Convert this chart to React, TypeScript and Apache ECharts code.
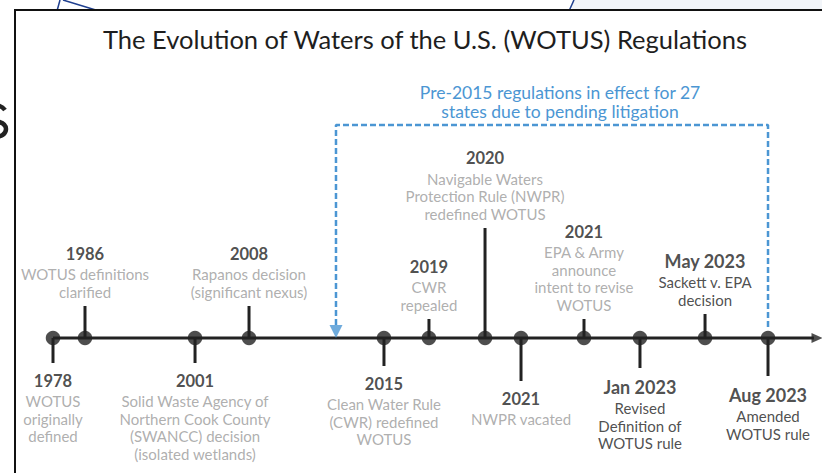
import React, { useEffect, useRef } from "react";
import * as echarts from "echarts";

// ---- data ----
const years = ["1978", "1986", "2001", "2008", "2015", "2019", "2020", "2021", "2021", "Jan 2023", "May 2023", "Aug 2023"];
// position along the schematic timeline (0 = start, 100 = arrow end)
const positions = [0, 4.16, 18.47, 25.49, 43.04, 48.89, 56.18, 60.86, 69.05, 76.33, 84.79, 92.98];
// stem length: positive = label above line, negative = below
const stems = [-25, 32, -25, 32, -28, 19, 110, -43, 19, -30, 24, -38];
const recent = [false, false, false, false, false, false, false, false, false, true, true, true];
const descriptions = [
  ["WOTUS", "originally", "defined"],
  ["WOTUS definitions", "clarified"],
  ["Solid Waste Agency of", "Northern Cook County", "(SWANCC) decision", "(isolated wetlands)"],
  ["Rapanos decision", "(significant nexus)"],
  ["Clean Water Rule", "(CWR) redefined", "WOTUS"],
  ["CWR", "repealed"],
  ["Navigable Waters", "Protection Rule (NWPR)", "redefined WOTUS"],
  ["NWPR vacated"],
  ["EPA & Army", "announce", "intent to revise", "WOTUS"],
  ["Revised", "Definition of", "WOTUS rule"],
  ["Sackett v. EPA", "decision"],
  ["Amended", "WOTUS rule"],
];
const bracketStart = 36.8;
const bracketEnd = 92.98;
const bracketHeight = 213;
const bracketLeftBottom = 13;
const bracketRightBottom = 8;
const timelineStart = 0;
const timelineEnd = 99.35;
const titleText = "The Evolution of Waters of the U.S. (WOTUS) Regulations";
const noteText = "Pre-2015 regulations in effect for 27\nstates due to pending litigation";

const FONT = "Lato, 'Open Sans', sans-serif";
const DARK = "#222222";
const GRAY = "#9a9a9a";
const BLUE = "#4b96d3";

// background letter fragment (drawn as a shape, partially outside the page)
const S_PATH =
  "M 23 5 C 20 1 15 0 12 0 C 5 0 2 4 2 8 C 2 14 8 15 13 16 C 19 17 24 19 24 24 C 24 29 19 32 13 32 C 8 32 3 30 1 27";
echarts.graphic.registerShape("bgLetter", echarts.graphic.extendPath(S_PATH, {}) as any);

export default function App() {
  const ref = useRef<HTMLDivElement>(null);
  useEffect(() => {
    if (!ref.current) return;
    const chart = echarts.init(ref.current, null, { renderer: "svg" });
    const labelData = years.map((y, i) => {
      const yk = recent[i] ? "Y" : "y";
      const dk = recent[i] ? "D" : "d";
      const text = [`{${yk}|${y}}`, ...descriptions[i].map((d) => `{${dk}|${d}}`)].join("\n");
      return {
        value: [positions[i], stems[i]],
        label: {
          show: true,
          position: stems[i] > 0 ? "top" : "bottom",
          distance: 5,
          formatter: text,
          align: "center",
        },
      };
    });
    const option: any = {
      animation: false,
      backgroundColor: "#ffffff",
      title: [
        {
          text: titleText,
          left: 420,
          top: 19,
          textAlign: "center",
          textStyle: { fontFamily: FONT, fontSize: 25.5, fontWeight: "normal", color: "#1e1e1e", lineHeight: 30 },
        },
        {
          text: noteText,
          left: 555,
          top: 78,
          textAlign: "center",
          textStyle: { fontFamily: FONT, fontSize: 17.5, fontWeight: "normal", color: BLUE, lineHeight: 19 },
        },
      ],
      graphic: [
        { type: "rect", z: 0, shape: { x: 572, y: 0, width: 260, height: 12 }, style: { fill: "#f2f5f9" } },
        { type: "line", z: 0, shape: { x1: 574, y1: 0, x2: 569, y2: 11 }, style: { stroke: "#1f3f8f", lineWidth: 1.5 } },
        { type: "line", z: 0, shape: { x1: 60, y1: 0, x2: 57, y2: 11 }, style: { stroke: "#1f3f8f", lineWidth: 1.5 } },
        { type: "line", z: 0, shape: { x1: 63, y1: 0, x2: 99, y2: 11 }, style: { stroke: "#1f3f8f", lineWidth: 1.5 } },
        { type: "bgLetter", z: 0, x: -18, y: 105, style: { fill: "none", stroke: DARK, lineWidth: 4.5 } },
        { type: "rect", z: 1, shape: { x: 15, y: 10, width: 830, height: 480 }, style: { fill: "#ffffff", stroke: "#111111", lineWidth: 2 } },
      ],
      grid: { left: 53, right: 0, top: 10, bottom: 0, containLabel: false },
      xAxis: { type: "value", min: 0, max: 100, show: false },
      yAxis: { type: "value", min: -135, max: 328, show: false },
      series: [
        {
          type: "line",
          z: 3,
          clip: false,
          symbol: "none",
          data: [[timelineStart, 0], [timelineEnd - 0.4, 0]],
          lineStyle: { color: DARK, width: 3 },
        },
        {
          type: "scatter",
          z: 3,
          clip: false,
          symbol: "triangle",
          symbolRotate: -90,
          symbolSize: [10, 11],
          itemStyle: { color: DARK },
          data: [[timelineEnd, 0]],
        },
        {
          type: "bar",
          z: 3,
          clip: false,
          barWidth: 3,
          itemStyle: { color: DARK },
          data: positions.map((p, i) => [p, stems[i]]),
        },
        {
          type: "line",
          z: 4,
          clip: false,
          symbol: "none",
          data: [
            [bracketStart, bracketLeftBottom],
            [bracketStart, bracketHeight],
            [bracketEnd, bracketHeight],
            [bracketEnd, bracketRightBottom],
          ],
          lineStyle: { color: BLUE, width: 2.5, type: [6, 3] },
        },
        {
          type: "scatter",
          z: 4,
          clip: false,
          symbol: "triangle",
          symbolRotate: 180,
          symbolSize: [13, 13],
          itemStyle: { color: BLUE },
          data: [[bracketStart, 6.5]],
        },
        {
          type: "scatter",
          z: 5,
          clip: false,
          symbolSize: 14.5,
          itemStyle: { color: DARK },
          data: positions.map((p) => [p, 0]),
        },
        {
          type: "scatter",
          z: 6,
          clip: false,
          symbolSize: 1,
          itemStyle: { color: "rgba(0,0,0,0)" },
          label: {
            rich: {
              y: { fontFamily: FONT, fontWeight: "bold", fontSize: 16.5, color: DARK, lineHeight: 24, align: "center" },
              Y: { fontFamily: FONT, fontWeight: "bold", fontSize: 18, color: DARK, lineHeight: 26, align: "center" },
              d: { fontFamily: FONT, fontSize: 15, color: GRAY, lineHeight: 17.5, align: "center" },
              D: { fontFamily: FONT, fontSize: 15, color: DARK, lineHeight: 17.5, align: "center" },
            },
          },
          data: labelData,
        },
      ],
    };
    chart.setOption(option);
    return () => chart.dispose();
  }, []);
  return <div ref={ref} style={{ position: "fixed", left: 0, top: 0, width: 822, height: 473 }} />;
}
